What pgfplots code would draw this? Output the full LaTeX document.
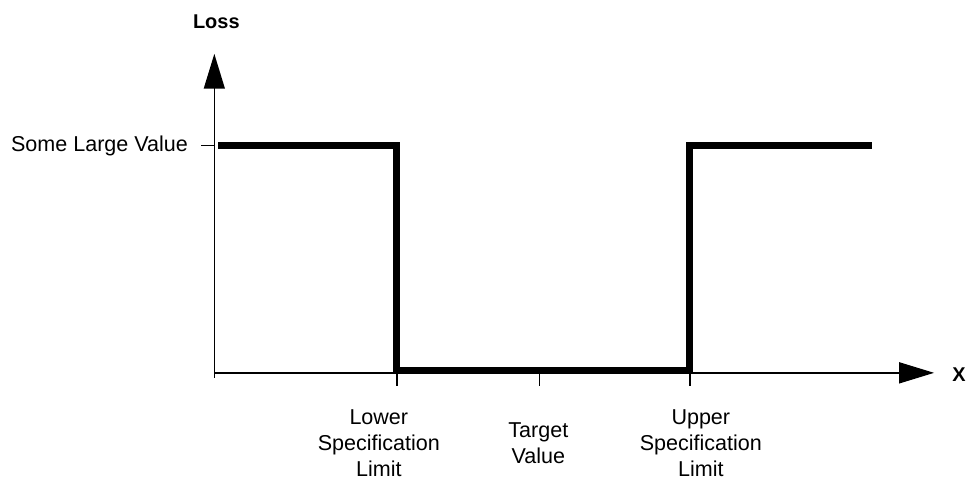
\documentclass[border=0pt]{standalone}
\usepackage{pgfplots}
\pgfplotsset{compat=1.18}
\usetikzlibrary{arrows.meta}
\usepackage{fontspec}
\setmainfont{Liberation Sans}
\begin{document}
\begin{tikzpicture}[font=\fontsize{21.6}{26.5}\selectfont]
\begin{axis}[
  x=1pt, y=1pt,
  xmin=215, xmax=937, ymin=103, ymax=423,
  enlargelimits=false,
  clip=false,
  axis x line=bottom, axis y line=left,
  axis line style={line width=1.6pt, black, -{Triangle[width=21pt,length=35pt]}},
  tick align=outside,
  major tick length=13pt,
  minor tick length=5pt,
  tick style={line width=1.6pt, black},
  xtick={398,541,692},
  xticklabels={},
  minor xtick={215},
  extra x ticks={380,540,703},
  extra x tick labels={{Lower\\Specification\\Limit},{Target\\Value},{Upper\\Specification\\Limit}},
  extra x tick style={major tick length=0pt, xticklabel style={align=center, anchor=center, yshift=-70.5pt}},
  ytick={331},
  yticklabels={Some Large Value},
  yticklabel style={xshift=-10pt},
]
\addplot[black, line width=7pt, line join=miter, line cap=butt] coordinates {
  (219,331) (398,331) (398,105) (692,105) (692,331) (875,331)
};
\node[font=\fontsize{20}{22}\selectfont\bfseries] at (axis cs:217,455) {Loss};
\node[font=\fontsize{20}{22}\selectfont\bfseries] at (axis cs:962,101) {X};
\path (axis cs:0,0) rectangle (axis cs:969,477);
\end{axis}
\end{tikzpicture}
\end{document}
